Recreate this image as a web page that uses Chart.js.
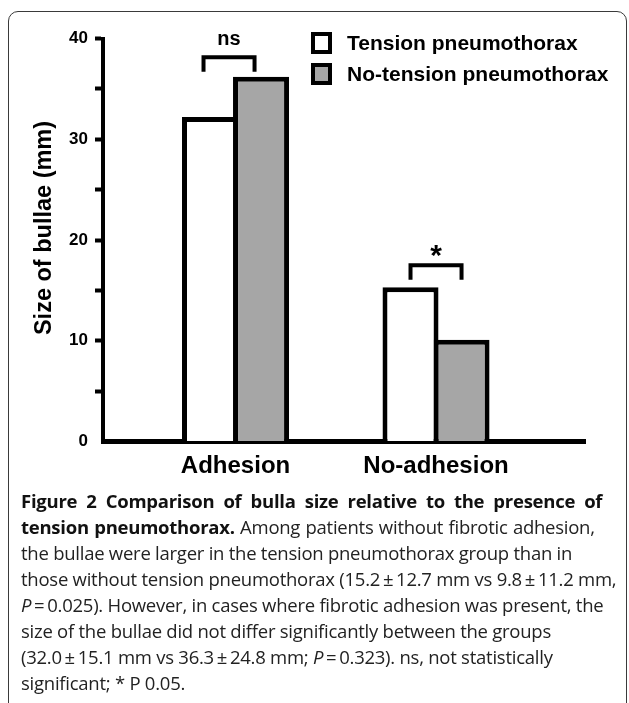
<!DOCTYPE html>
<html><head><meta charset="utf-8">
<script src="https://cdn.jsdelivr.net/npm/chart.js@4.4.1/dist/chart.umd.min.js"></script>
<style>
html,body{margin:0;padding:0;background:#fff;}
body{width:629px;height:703px;position:relative;overflow:hidden;}
#frame{position:absolute;left:8px;top:11px;width:619px;height:760px;border:1.5px solid #3a3a3a;border-radius:10px;box-sizing:border-box;}
#chartWrap{position:absolute;left:0;top:0;width:629px;height:490px;}
#caption{position:absolute;left:21px;top:488px;font-family:'Open Sans',sans-serif;font-size:18.5px;letter-spacing:-0.25px;line-height:26px;color:#222;white-space:nowrap;}
#caption b{font-weight:700;color:#111;}
#caption div{height:26px;}
</style></head><body>
<div id="frame"></div>
<div id="chartWrap"><canvas id="c" width="629" height="490"></canvas></div>
<div id="caption">
<div style="word-spacing:4.5px"><b>Figure 2 Comparison of bulla size relative to the presence of</b></div>
<div style="word-spacing:0.8px"><b>tension pneumothorax.</b> Among patients without fibrotic adhesion,</div>
<div>the bullae were larger in the tension pneumothorax group than in</div>
<div>those without tension pneumothorax (15.2&#8201;±&#8201;12.7 mm vs 9.8&#8201;±&#8201;11.2 mm,</div>
<div><i>P</i>&#8201;=&#8201;0.025). However, in cases where fibrotic adhesion was present, the</div>
<div>size of the bullae did not differ significantly between the groups</div>
<div>(32.0&#8201;±&#8201;15.1 mm vs 36.3&#8201;±&#8201;24.8 mm; <i>P</i>&#8201;=&#8201;0.323). ns, not statistically</div>
<div>significant; * P 0.05.</div>
</div>
<script>
const categories = ['Adhesion', 'No-adhesion'];
const seriesNames = ['Tension pneumothorax', 'No-tension pneumothorax'];
const tensionValues = [32.2, 15.3];
const noTensionValues = [36.2, 10.1];
const yTickLabels = [0, 10, 20, 30, 40];
const significance = ['ns', '*'];
const bracketTops = [38.15, 17.5];

const FONT = "'Liberation Sans', Arial, Helvetica, sans-serif";
const fillColors = ['#ffffff', '#a6a6a6'];
const bracketShift = [-6.5, 0];

const annot = {
  id: 'annot',
  afterDraw(chart) {
    const { ctx, chartArea, scales: { y } } = chart;
    ctx.save();
    // significance brackets
    categories.forEach((c, i) => {
      const b0 = chart.getDatasetMeta(0).data[i];
      const b1 = chart.getDatasetMeta(1).data[i];
      const xl = b0.x + bracketShift[i];
      const xr = b1.x + bracketShift[i];
      const yt = y.getPixelForValue(bracketTops[i]);
      const drop = 14.5;
      ctx.strokeStyle = '#000';
      ctx.lineWidth = 4;
      ctx.lineJoin = 'miter';
      ctx.lineCap = 'butt';
      ctx.beginPath();
      ctx.moveTo(xl, yt + drop);
      ctx.lineTo(xl, yt);
      ctx.lineTo(xr, yt);
      ctx.lineTo(xr, yt + drop);
      ctx.stroke();
      ctx.fillStyle = '#000';
      ctx.textAlign = 'center';
      ctx.textBaseline = 'alphabetic';
      const xm = (xl + xr) / 2;
      if (significance[i] === '*') {
        ctx.font = 'bold 30px ' + FONT;
        ctx.fillText(significance[i], xm, yt + 0.57 * 30 - 17.5);
      } else {
        ctx.font = 'bold 20px ' + FONT;
        ctx.fillText(significance[i], xm, yt - 12.5);
      }
    });
    // legend
    const lx = chartArea.left + 208;
    const ly = chartArea.top - 6.5;
    chart.data.datasets.forEach((ds, i) => {
      const top = ly + i * 31;
      ctx.fillStyle = fillColors[i];
      ctx.fillRect(lx, top, 21, 22);
      ctx.strokeStyle = '#000';
      ctx.lineWidth = 4;
      ctx.strokeRect(lx + 2, top + 2, 17, 18);
      ctx.fillStyle = '#000';
      ctx.font = 'bold 21px ' + FONT;
      ctx.textAlign = 'left';
      ctx.textBaseline = 'alphabetic';
      ctx.fillText(ds.label, lx + 36, top + 18);
    });
    // y axis title
    ctx.save();
    ctx.translate(44.5, (chartArea.top + chartArea.bottom) / 2 - 12);
    ctx.rotate(-Math.PI / 2);
    ctx.font = 'bold 23.5px ' + FONT;
    ctx.fillStyle = '#000';
    ctx.textAlign = 'center';
    ctx.textBaseline = 'middle';
    ctx.fillText('Size of bullae (mm)', 0, 0);
    ctx.restore();
    ctx.restore();
  }
};

new Chart(document.getElementById('c'), {
  type: 'bar',
  data: {
    datasets: [
      { label: seriesNames[0], data: tensionValues.map((v, i) => ({ x: i, y: v })),
        backgroundColor: fillColors[0], borderColor: '#000', borderWidth: 5, borderSkipped: 'start',
        categoryPercentage: 0.509, barPercentage: 1.098 },
      { label: seriesNames[1], data: noTensionValues.map((v, i) => ({ x: i, y: v })),
        backgroundColor: fillColors[1], borderColor: '#000', borderWidth: 5, borderSkipped: 'start',
        categoryPercentage: 0.509, barPercentage: 1.098 }
    ]
  },
  options: {
    responsive: false,
    animation: false,
    layout: { padding: { left: 0, right: 44, top: 38.5, bottom: 8.5 } },
    plugins: { legend: { display: false }, tooltip: { enabled: false } },
    scales: {
      x: {
        type: 'linear', min: -0.661, max: 1.743, offset: false, bounds: 'data', z: 1,
        afterBuildTicks: s => { s.ticks = categories.map((c, i) => ({ value: i })); },
        afterFit: s => { s.height = 40; },
        grid: { display: false, drawTicks: false },
        border: { display: true, color: '#000', width: 5 },
        ticks: {
          callback: v => categories[v] !== undefined ? categories[v] : '',
          font: { family: FONT, size: 24, weight: 'bold' }, color: '#000',
          padding: 10, maxRotation: 0, autoSkip: false
        }
      },
      y: {
        min: 0, max: 40, z: 1,
        afterFit: s => { s.width = 103; },
        ticks: {
          stepSize: 5,
          callback: v => yTickLabels.includes(v) ? String(v) : '',
          font: { family: FONT, size: 17, weight: 'bold' }, color: '#000', padding: 7
        },
        grid: {
          display: true, drawOnChartArea: false, drawTicks: true, tickLength: 8, tickWidth: 4,
          tickColor: c => (c.tick && c.tick.value === 0) ? 'rgba(0,0,0,0)' : '#000'
        },
        border: { display: true, color: '#000', width: 4 }
      }
    }
  },
  plugins: [annot]
});
</script>
</body></html>
